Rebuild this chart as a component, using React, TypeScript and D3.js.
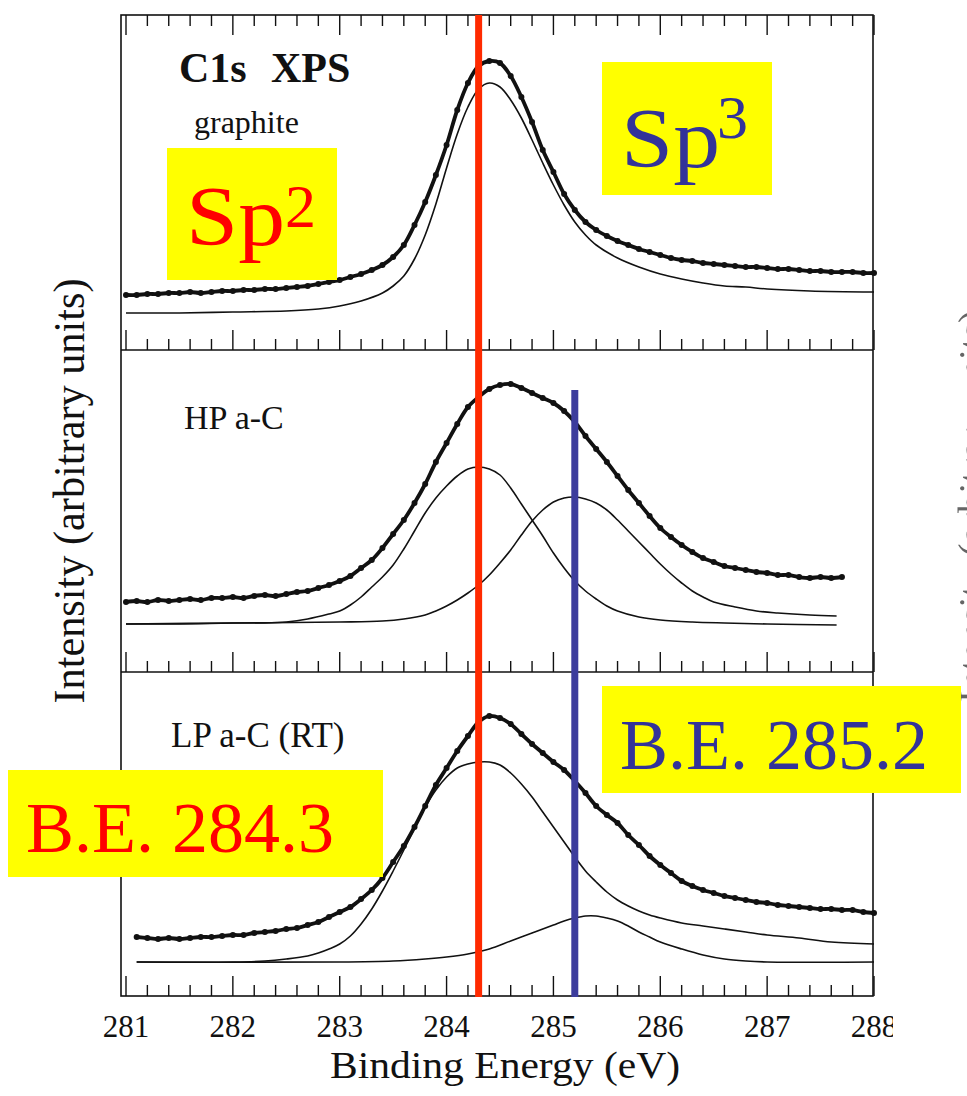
import React from "react";
import * as d3 from "d3";

// ---- C1s XPS spectra (binding energy in eV, intensity in arbitrary units) ----

// graphite: measured points
const E_GRAPHITE = [
  281.0, 281.1, 281.2, 281.3, 281.4, 281.5, 281.6, 281.7, 281.8, 281.9,
  282.0, 282.1, 282.2, 282.3, 282.4, 282.5, 282.6, 282.7, 282.8, 282.9,
  283.0, 283.1, 283.2, 283.3, 283.4, 283.5, 283.6, 283.7, 283.8, 283.9,
  284.0, 284.1, 284.2, 284.3, 284.4, 284.5, 284.6, 284.7, 284.8, 284.9,
  285.0, 285.1, 285.2, 285.3, 285.4, 285.5, 285.6, 285.7, 285.8, 285.9,
  286.0, 286.1, 286.2, 286.3, 286.4, 286.5, 286.6, 286.7, 286.8, 286.9,
  287.0, 287.1, 287.2, 287.3, 287.4, 287.5, 287.6, 287.7, 287.8, 287.9,
  288.0,
];
const I_GRAPHITE = [
  55, 55, 56, 56, 57, 57, 58, 57, 58, 59,
  59, 60, 60, 61, 61, 62, 63, 64, 66, 68,
  70, 73, 76, 80, 85, 93, 105, 125, 148, 175,
  205, 240, 267, 284, 289, 287, 274, 253, 228, 200,
  178, 156, 140, 128, 120, 114, 109, 105, 101, 98,
  95, 92, 90, 89, 87, 86, 85, 84, 83, 83,
  82, 81, 81, 80, 79, 79, 78, 78, 78, 77,
  77,
];
// graphite: fitted sp2 line
const E_GRAPHITE_FIT = [
  281.0, 281.5, 282.0, 282.5, 282.8, 283.0, 283.2, 283.4,
  283.5, 283.6, 283.7, 283.8, 283.9, 284.0, 284.1, 284.2, 284.3, 284.4, 284.5, 284.6, 284.7, 284.8, 284.9,
  285.0, 285.1, 285.2, 285.3, 285.4,
  285.6, 285.8, 286.0, 286.2, 286.4, 286.6, 286.8, 287.0,
  287.4, 288.0,
];
const I_GRAPHITE_FIT = [
  37, 37, 38, 39, 41, 44, 49, 57,
  64, 74, 91, 115, 146, 182, 216, 243, 261, 267, 263, 250, 232, 210, 187,
  165, 145, 128, 115, 105,
  92, 83, 76, 71, 67, 64, 63, 61,
  59, 58,
];

// HP a-C: measured points
const E_HP = [
  281.0, 281.1, 281.2, 281.3, 281.4, 281.5, 281.6, 281.7, 281.8, 281.9,
  282.0, 282.1, 282.2, 282.3, 282.4, 282.5, 282.6, 282.7, 282.8, 282.9,
  283.0, 283.1, 283.2, 283.3, 283.4, 283.5, 283.6, 283.7, 283.8, 283.9,
  284.0, 284.1, 284.2, 284.3, 284.4, 284.5, 284.6, 284.7, 284.8, 284.9,
  285.0, 285.1, 285.2, 285.3, 285.4, 285.5, 285.6, 285.7, 285.8, 285.9,
  286.0, 286.1, 286.2, 286.3, 286.4, 286.5, 286.6, 286.7, 286.8, 286.9,
  287.0, 287.1, 287.2, 287.3, 287.4, 287.5, 287.6, 287.7,
];
const I_HP = [
  70, 71, 70, 72, 71, 72, 73, 72, 74, 74,
  75, 74, 76, 77, 76, 78, 80, 81, 84, 87,
  91, 96, 104, 112, 124, 138, 152, 169, 188, 210,
  229, 248, 265, 275, 283, 287, 288, 284, 279, 274,
  269, 261, 250, 236, 223, 210, 196, 182, 169, 156,
  144, 135, 127, 120, 114, 110, 106, 104, 102, 100,
  99, 97, 97, 95, 94, 95, 94, 95,
];
// HP a-C: sp2 component
const E_HP_SP2 = [
  281.0, 281.5, 282.0, 282.3, 282.5, 282.7, 282.9,
  283.0, 283.1, 283.2, 283.3, 283.4, 283.5, 283.6, 283.7, 283.8, 283.9,
  284.0, 284.1, 284.2, 284.3, 284.4, 284.5, 284.6, 284.7, 284.8, 284.9,
  285.0, 285.1, 285.2, 285.3, 285.4, 285.5, 285.6,
  285.8, 286.0, 286.3, 286.6, 287.0, 287.65,
];
const I_HP_SP2 = [
  48, 48, 49, 49, 50, 53, 58,
  61, 67, 75, 85, 95, 107, 123, 141, 159, 174,
  186, 196, 203, 205, 203, 197, 184, 168, 152, 136,
  119, 104, 91, 81, 73, 66, 61,
  55, 52, 50, 49, 48, 47,
];
// HP a-C: sp3 component
const E_HP_SP3 = [
  281.0, 282.0, 283.0, 283.4, 283.6, 283.8,
  283.9, 284.0, 284.1, 284.2, 284.3, 284.4, 284.5, 284.6, 284.7, 284.8, 284.9,
  285.0, 285.1, 285.2, 285.3, 285.4, 285.5, 285.6, 285.7, 285.8, 285.9,
  286.0, 286.1, 286.2, 286.3, 286.4, 286.5,
  286.7, 286.9, 287.1, 287.4, 287.65,
];
const I_HP_SP3 = [
  48, 49, 50, 51, 53, 57,
  61, 66, 72, 79, 87, 97, 109, 122, 137, 151, 162,
  170, 174, 175, 173, 169, 162, 152, 141, 130, 119,
  108, 98, 89, 81, 75, 70,
  65, 61, 59, 57, 56,
];

// LP a-C (RT): measured points
const E_LP = [
  281.1, 281.2, 281.3, 281.4, 281.5, 281.6, 281.7, 281.8, 281.9,
  282.0, 282.1, 282.2, 282.3, 282.4, 282.5, 282.6, 282.7, 282.8, 282.9,
  283.0, 283.1, 283.2, 283.3, 283.4, 283.5, 283.6, 283.7, 283.8, 283.9,
  284.0, 284.1, 284.2, 284.3, 284.4, 284.5, 284.6, 284.7, 284.8, 284.9,
  285.0, 285.1, 285.2, 285.3, 285.4, 285.5, 285.6, 285.7, 285.8, 285.9,
  286.0, 286.1, 286.2, 286.3, 286.4, 286.5, 286.6, 286.7, 286.8, 286.9,
  287.0, 287.1, 287.2, 287.3, 287.4, 287.5, 287.6, 287.7, 287.8, 287.9,
  288.0,
];
const I_LP = [
  59, 58, 57, 58, 57, 58, 59, 59, 60,
  61, 61, 63, 64, 65, 67, 68, 71, 74, 79,
  84, 89, 97, 106, 118, 134, 150, 169, 190, 211,
  228, 245, 260, 274, 280, 278, 272, 262, 252, 243,
  234, 226, 215, 203, 190, 181, 173, 161, 151, 140,
  131, 123, 115, 110, 106, 103, 100, 98, 96, 94,
  93, 91, 90, 89, 88, 87, 87, 86, 86, 84,
  83,
];
// LP a-C (RT): sp2 component
const E_LP_SP2 = [
  281.1, 282.0, 282.3, 282.5, 282.7, 282.8, 282.9,
  283.0, 283.1, 283.2, 283.3, 283.4, 283.5, 283.6, 283.7, 283.8, 283.9,
  284.0, 284.1, 284.2, 284.3, 284.4, 284.5, 284.6, 284.7, 284.8, 284.9,
  285.0, 285.1, 285.2, 285.3, 285.4, 285.5, 285.6, 285.7, 285.8, 285.9,
  286.0, 286.2, 286.4, 286.6, 286.8, 287.0, 287.3, 287.6, 288.0,
];
const I_LP_SP2 = [
  34, 34, 35, 37, 40, 43, 47,
  52, 60, 72, 87, 105, 125, 146, 168, 189, 206,
  219, 228, 232, 234, 234, 231, 223, 212, 199, 184,
  169, 154, 139, 125, 114, 104, 96, 90, 85, 81,
  78, 73, 70, 67, 64, 61, 58, 54, 52,
];
// LP a-C (RT): sp3 component
const E_LP_SP3 = [
  281.1, 283.0, 283.5, 283.8, 284.0, 284.2, 284.4, 284.6, 284.8, 285.0,
  285.1, 285.2, 285.3, 285.4, 285.5, 285.6, 285.7, 285.8, 285.9, 286.0,
  286.2, 286.4, 286.6, 286.8, 287.0, 288.0,
];
const I_LP_SP3 = [
  34, 34, 35, 37, 39, 42, 47, 55, 63, 71,
  75, 78, 80, 80, 78, 75, 70, 64, 59, 54,
  47, 41, 37, 35, 34, 34,
];

// Axis
const X_DOMAIN = [281, 288];
const X_TICK_LABELS = ["281", "282", "283", "284", "285", "286", "287", "288"];

// Peak positions marked on the spectra (eV)
const SP2_BE = 284.3;
const SP3_BE = 285.2;

const W = 967;
const H = 1096;
const FRAME_L = 121;
const FRAME_R = 873;
const SERIF = "'Liberation Serif', 'Times New Roman', Times, serif";

type Pt = [number, number];
const zip = (e: number[], v: number[]): Pt[] => e.map((x, i) => [x, v[i]]);

const panels = [
  {
    top: 15,
    bottom: 350,
    data: zip(E_GRAPHITE, I_GRAPHITE),
    fits: [zip(E_GRAPHITE_FIT, I_GRAPHITE_FIT)],
  },
  {
    top: 350,
    bottom: 672,
    data: zip(E_HP, I_HP),
    fits: [zip(E_HP_SP2, I_HP_SP2), zip(E_HP_SP3, I_HP_SP3)],
  },
  {
    top: 672,
    bottom: 996,
    data: zip(E_LP, I_LP),
    fits: [zip(E_LP_SP2, I_LP_SP2), zip(E_LP_SP3, I_LP_SP3)],
  },
];

export default function App() {
  const x = d3.scaleLinear().domain(X_DOMAIN).range([126, 874]);
  const tickValues = d3.range(0, 36).map((i) => X_DOMAIN[0] + i * 0.2);
  const isMajor = (t: number) => Math.abs(t - Math.round(t)) < 1e-6;

  const tickRow = (y0: number, dir: number, key: string) => (
    <g key={key}>
      {tickValues.map((t, i) => (
        <line
          key={i}
          x1={x(t)}
          x2={x(t)}
          y1={y0}
          y2={y0 + dir * (isMajor(t) ? 20 : 11)}
          stroke="#111"
          strokeWidth={1.4}
        />
      ))}
    </g>
  );

  return (
    <svg
      width={W}
      height={H}
      viewBox={`0 0 ${W} ${H}`}
      style={{ position: "absolute", left: 0, top: 0, background: "#fff" }}
    >
      <defs>
        <clipPath id="figClip">
          <rect x={0} y={0} width={893} height={H} />
        </clipPath>
        <filter id="soft" x="-10%" y="-10%" width="120%" height="120%">
          <feGaussianBlur stdDeviation="0.6" />
        </filter>
      </defs>
      <rect x={0} y={0} width={W} height={H} fill="#fff" />

      {/* faint label of the neighbouring figure, cut by the page edge */}
      <text
        transform="translate(986, 703) rotate(-90)"
        fontFamily={SERIF}
        fontSize={40}
        textLength={393}
        lengthAdjust="spacingAndGlyphs"
        fill="#333"
        opacity={0.75}
        filter="url(#soft)"
      >
        Intensity (arbitrary units)
      </text>

      <g clipPath="url(#figClip)">
        {/* frame */}
        <rect
          x={FRAME_L}
          y={panels[0].top}
          width={FRAME_R - FRAME_L}
          height={panels[2].bottom - panels[0].top}
          fill="none"
          stroke="#111"
          strokeWidth={1.6}
        />
        <line x1={FRAME_L} x2={FRAME_R} y1={350} y2={350} stroke="#111" strokeWidth={1.6} />
        <line x1={FRAME_L} x2={FRAME_R} y1={672} y2={672} stroke="#111" strokeWidth={1.6} />

        {/* tick rows */}
        {tickRow(panels[0].top, 1, "t0")}
        {panels.map((p, i) => tickRow(p.bottom, -1, "b" + i))}

        {/* spectra */}
        {panels.map((p, pi) => {
          const y = d3.scaleLinear().domain([0, p.bottom - p.top]).range([p.bottom, p.top]);
          const line = d3
            .line<Pt>()
            .x((d) => x(d[0]))
            .y((d) => y(d[1]))
            .curve(d3.curveCatmullRom.alpha(0.5));
          return (
            <g key={pi}>
              {p.fits.map((f, fi) => (
                <path key={fi} d={line(f) || ""} fill="none" stroke="#111" strokeWidth={1.6} />
              ))}
              <path d={line(p.data) || ""} fill="none" stroke="#111" strokeWidth={3.8} />
              {p.data.map((d, di) => (
                <circle key={di} cx={x(d[0])} cy={y(d[1])} r={3} fill="#111" />
              ))}
            </g>
          );
        })}

        {/* x tick labels */}
        {X_TICK_LABELS.map((lab, i) => (
          <text
            key={lab}
            x={x(X_DOMAIN[0] + i)}
            y={1037}
            textAnchor="middle"
            fontFamily={SERIF}
            fontSize={31}
            fill="#111"
          >
            {lab}
          </text>
        ))}

        <text
          x={505}
          y={1078}
          textAnchor="middle"
          fontFamily={SERIF}
          fontSize={38}
          textLength={350}
          lengthAdjust="spacingAndGlyphs"
          fill="#111"
        >
          Binding Energy (eV)
        </text>

        <text
          transform="translate(84, 491) rotate(-90)"
          textAnchor="middle"
          fontFamily={SERIF}
          fontSize={44}
          textLength={425}
          lengthAdjust="spacingAndGlyphs"
          fill="#111"
        >
          Intensity (arbitrary units)
        </text>

        {/* panel captions */}
        <text x={179} y={82} fontFamily={SERIF} fontSize={42} fontWeight="bold" fill="#111">
          C1s
        </text>
        <text x={271} y={82} fontFamily={SERIF} fontSize={42} fontWeight="bold" fill="#111">
          XPS
        </text>
        <text x={194} y={133} fontFamily={SERIF} fontSize={32} fill="#111">
          graphite
        </text>
        <text x={184} y={429} fontFamily={SERIF} fontSize={34} fill="#111">
          HP a-C
        </text>
        <text x={171} y={747} fontFamily={SERIF} fontSize={35} fill="#111">
          LP a-C (RT)
        </text>
      </g>

      {/* binding-energy markers */}
      <line
        x1={x(SP2_BE)}
        x2={x(SP2_BE)}
        y1={15}
        y2={997}
        stroke="#ff2a00"
        strokeWidth={7}
      />
      <line
        x1={x(SP3_BE)}
        x2={x(SP3_BE)}
        y1={390}
        y2={997}
        stroke="#3c3c9c"
        strokeWidth={7}
      />

      {/* annotation boxes */}
      <rect x={167} y={148} width={170} height={132} fill="#ffff00" />
      <text x={186} y={245} fontFamily={SERIF} fontSize={84} textLength={99} lengthAdjust="spacingAndGlyphs" fill="#ff0000">
        Sp
      </text>
      <text x={285} y={227} fontFamily={SERIF} fontSize={62} fill="#ff0000">
        2
      </text>

      <rect x={602} y={62} width={170} height={133} fill="#ffff00" />
      <text x={621} y={167} fontFamily={SERIF} fontSize={84} textLength={99} lengthAdjust="spacingAndGlyphs" fill="#333399">
        Sp
      </text>
      <text x={717} y={138} fontFamily={SERIF} fontSize={62} fill="#333399">
        3
      </text>

      <rect x={8} y={770} width={375} height={107} fill="#ffff00" />
      <text x={26} y={852} fontFamily={SERIF} fontSize={72} fill="#ff0000">
        {`B.E. ${SP2_BE.toFixed(1)}`}
      </text>

      <rect x={602} y={686} width={359} height={107} fill="#ffff00" />
      <text x={620} y={769} fontFamily={SERIF} fontSize={72} fill="#333399">
        {`B.E. ${SP3_BE.toFixed(1)}`}
      </text>
    </svg>
  );
}
